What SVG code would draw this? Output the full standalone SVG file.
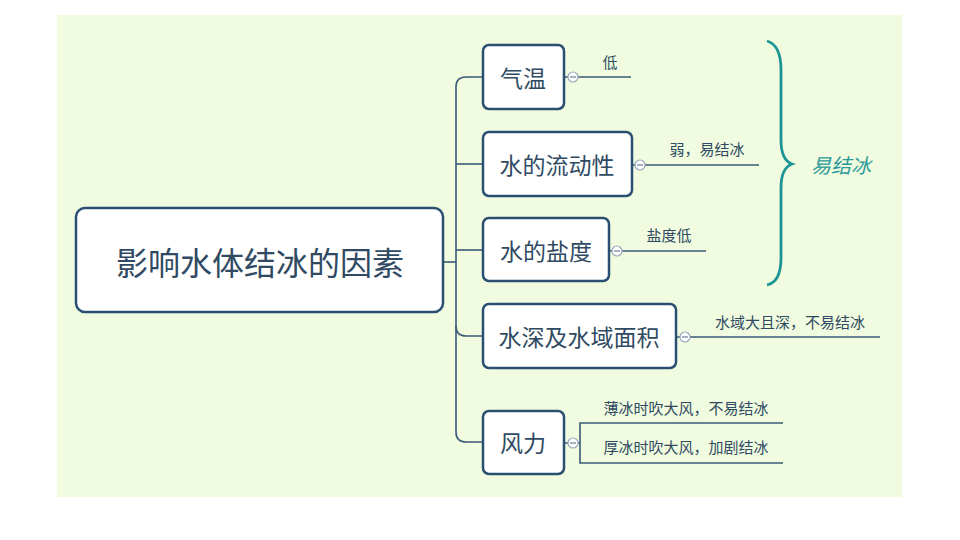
<svg xmlns="http://www.w3.org/2000/svg" width="960" height="540" viewBox="0 0 960 540">
<style>
.node{fill:#ffffff;stroke:#2b4f70;stroke-width:2.5}
.t{font-family:"Noto Sans CJK SC","Noto Sans",sans-serif;fill:#2f4a62;text-anchor:middle;dominant-baseline:central}
.big{font-size:32px}
.mid{font-size:23px}
.sm{font-size:15px}
.ln{fill:none;stroke:#3a5a78;stroke-width:1.6}
.col{fill:#ffffff;stroke:#9aa8bd;stroke-width:1.2}
.minus{stroke:#6a7c93;stroke-width:1.2}
</style>
<rect x="0" y="0" width="960" height="540" fill="#ffffff"/>
<rect x="57" y="15" width="845" height="482" fill="#f0fbdf"/>
<g id="connectors">
<path class="ln" d="M443 262 H456"/>
<path class="ln" d="M483 77 H466 Q456 77 456 87 V432 Q456 442 466 442 H483"/>
<path class="ln" d="M456 164 H483"/>
<path class="ln" d="M456 250 H483"/>
<path class="ln" d="M456 326 Q456 336 466 336 H483"/>
<path class="ln" d="M564 77 H568 M578 77 H631"/>
<path class="ln" d="M632 165 H635 M645 165 H759"/>
<path class="ln" d="M609 251 H612 M622 251 H706"/>
<path class="ln" d="M676 337 H680 M690 337 H880"/>
<path class="ln" d="M564 443 H568 M578 443 H580 M783 423 H580 V463 H783"/>
</g>
<g id="root">
<rect class="node" x="76" y="208" width="367" height="104" rx="9"/>
<text class="t big" x="260" y="261">影响水体结冰的因素</text>
</g>
<g id="n1">
<rect class="node" x="483" y="45" width="81" height="64" rx="6"/>
<text class="t mid" x="523" y="77">气温</text>
<circle class="col" cx="573" cy="77" r="5"/><path class="minus" d="M570 77 H576"/>
<text class="t sm" x="610" y="61">低</text>
</g>
<g id="n2">
<rect class="node" x="483" y="132" width="149" height="64" rx="6"/>
<text class="t mid" x="557" y="164">水的流动性</text>
<circle class="col" cx="640" cy="165" r="5"/><path class="minus" d="M637 165 H643"/>
<text class="t sm" x="707" y="148">弱，易结冰</text>
</g>
<g id="n3">
<rect class="node" x="483" y="218" width="126" height="63" rx="6"/>
<text class="t mid" x="546" y="250">水的盐度</text>
<circle class="col" cx="617" cy="251" r="5"/><path class="minus" d="M614 251 H620"/>
<text class="t sm" x="669" y="234">盐度低</text>
</g>
<g id="n4">
<rect class="node" x="483" y="304" width="193" height="64" rx="6"/>
<text class="t mid" x="579" y="336">水深及水域面积</text>
<circle class="col" cx="685" cy="337" r="5"/><path class="minus" d="M682 337 H688"/>
<text class="t sm" x="790" y="321">水域大且深，不易结冰</text>
</g>
<g id="n5">
<rect class="node" x="483" y="411" width="81" height="63" rx="6"/>
<text class="t mid" x="523" y="442">风力</text>
<circle class="col" cx="573" cy="443" r="5"/><path class="minus" d="M570 443 H576"/>
<text class="t sm" x="686" y="407">薄冰时吹大风，不易结冰</text>
<text class="t sm" x="686" y="446">厚冰时吹大风，加剧结冰</text>
</g>
<g id="brace">
<path d="M767 41 Q781 45 781 70 V140 Q781 160 792 164 Q781 168 781 188 V258 Q781 282 767 285" fill="none" stroke="#1e9595" stroke-width="2.8"/>
<text x="841" y="164" font-family="Noto Sans CJK SC,sans-serif" font-size="20" font-style="italic" fill="#2a9a9a" text-anchor="middle" dominant-baseline="central">易结冰</text>
</g>
</svg>
